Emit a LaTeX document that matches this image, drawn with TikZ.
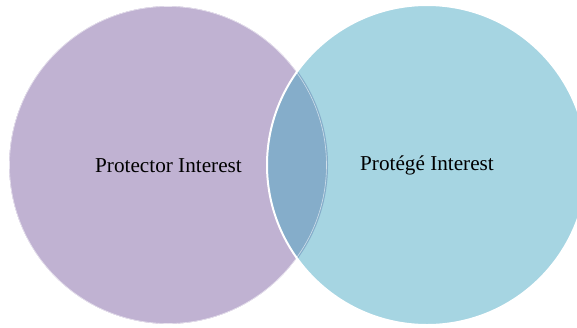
\documentclass[tikz,border=0pt]{standalone}
\usepackage{fontspec}
\setmainfont{Liberation Serif}
\definecolor{purplec}{RGB}{192,178,210}
\definecolor{bluec}{RGB}{166,213,226}
\definecolor{lensc}{RGB}{133,173,202}
\begin{document}
\begin{tikzpicture}[x=1pt,y=-1pt,
  setc/.style={line width=2pt,draw=white},
  lbl/.style={font=\fontsize{21.2}{25}\selectfont,text=black,inner sep=0pt}]
\useasboundingbox (0,0) rectangle (577,327);
\begin{scope}
\clip (0,0) rectangle (577,327);
\fill[purplec] (168,165) circle[radius=160];
\draw[setc] (168,165) circle[radius=160];
\fill[bluec] (427,165) circle[radius=160];
\begin{scope}
\clip (168,165) circle[radius=160];
\fill[lensc] (427,165) circle[radius=160];
\end{scope}
\draw[white,opacity=0.6,line width=0.6pt] (168,165) circle[radius=158.5];
\draw[setc] (427,165) circle[radius=160];
\end{scope}
\node[lbl] (protector) at (168.5,165.5) {Protector Interest};
\node[lbl] (protege) at (427,165.5) {Protégé Interest};
\end{tikzpicture}
\end{document}
